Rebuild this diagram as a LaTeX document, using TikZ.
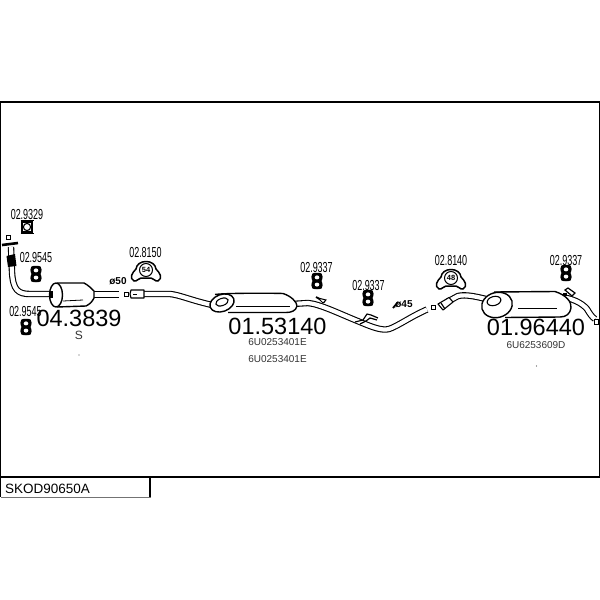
\documentclass[tikz,border=0pt]{standalone}
\usepackage{fontspec}
\setmainfont{Liberation Sans}
\tikzset{
  partno/.style={font=\fontsize{23.5}{24}\selectfont,inner sep=0pt},
  oem/.style={font=\fontsize{10}{11}\selectfont,text=black!80,inner sep=0pt},
  ref/.style={font=\fontsize{14.5}{15}\selectfont,xscale=.62,inner sep=0pt},
  dia/.style={font=\bfseries\fontsize{10}{10}\selectfont,inner sep=0pt},
  pipe/.style={draw=black,line width=1.1pt,double=white,double distance=4.2pt,line join=round},
  thinpipe/.style={draw=black,line width=1.1pt,double=white,double distance=3pt,line join=round},
  body/.style={draw=black,line width=1.4pt,fill=white,line join=round},
  tiny/.style={draw=black,line width=1pt,fill=white},
  rubber/.pic={
    \fill[black] (-4.5,-7.5) .. controls (-2,-8.5) and (2,-8.5) .. (4.5,-7.5) .. controls (7,-3) and (4.5,-1) .. (4.5,0) .. controls (4.5,1) and (7,3) .. (4.5,7.5) .. controls (2,8.5) and (-2,8.5) .. (-4.5,7.5) .. controls (-7,3) and (-4.5,1) .. (-4.5,0) .. controls (-4.5,-1) and (-7,-3) .. (-4.5,-7.5) -- cycle;
    \fill[white] (0,-3.6) ellipse (2.3 and 2);
    \fill[white] (0,3.6) ellipse (2.3 and 2);
  },
  saddle/.pic={
    \draw[line width=1.5pt,fill=white,line join=round] (-12,11) .. controls (-17,8) and (-14,3) .. (-10,-1) .. controls (-9,-11) and (9,-11) .. (10,-1) .. controls (14,3) and (17,8) .. (12,11) .. controls (9,12) and (8,8) .. (5,8) -- (-5,8) .. controls (-8,8) and (-9,12) .. (-12,11) -- cycle;
    \draw[line width=1pt] (0,0) circle (6.5);
  }
}
\begin{document}
\begin{tikzpicture}[x=1pt,y=-1pt]
\useasboundingbox (0,0) rectangle (600,600);
% frame
\draw[line width=1.3pt] (.7,102) rectangle (599.3,477);
\draw[line width=1.3pt] (.7,477) -- (.7,497);
\draw[line width=1.3pt] (150,477) -- (150,497);
\draw[line width=1.5pt,black!55] (.7,497.5) -- (150.5,497.5);
\node[anchor=west,font=\fontsize{13.5}{14}\selectfont,inner sep=0pt] (code) at (5,489) {SKOD90650A};

% front pipe and flange
\draw[tiny,line width=.9pt] (6,235) rectangle (10.5,239.5);
\draw[pipe] (11,247) -- (12,272) .. controls (13,290) and (18,294) .. (30,294) -- (54,294);
\fill[black] (6.5,256) -- (15,254) -- (16.5,266) -- (8,267) -- cycle;
\draw[line width=2.6pt] (2,245) -- (18,243);

% catalyst
\draw[thinpipe,double distance=4.5pt] (92,294.5) -- (118.5,294.5);
\draw[body] (57,283) -- (84,283) .. controls (88,285) and (91,288) .. (94,291) -- (94,298) .. controls (92,302) and (90,304) .. (86,306) -- (57,307);
\draw[body] (56,295) ellipse (6.5 and 12);
\draw[line width=.8pt] (63,301) -- (83,300);
\fill (50,291) rectangle (53,298);

% intermediate pipe
\draw[tiny] (124.5,292) rectangle (128.5,296);
\draw[pipe] (143,294) -- (170,294) .. controls (180,295) and (190,300) .. (212,305);
\draw[body,line width=1.1pt] (131,290) -- (144,290) -- (144,298) -- (131,298) -- (130,294) -- cycle;
\draw[line width=.8pt] (133,294) -- (137,294);

% centre muffler
\draw[pipe] (292,304) -- (308,303) .. controls (320,304) and (340,314) .. (360,322) .. controls (372,327) and (382,331) .. (389,329) .. controls (398,326) and (410,317) .. (427,309.5);
\draw[body] (215,294.5) .. controls (225,293) and (270,293) .. (283,293.5) .. controls (291,296) and (297,302) .. (297,306) .. controls (296,311) and (291,312.5) .. (286,312.5) -- (228,312.5);
\draw[body,rotate around={20:(222,303)}] (222,303) ellipse (12.5 and 8.5);
\draw[body,line width=1.1pt,rotate around={20:(222,302)}] (222,302) ellipse (6.5 and 3.6);
\draw[line width=.9pt] (236,306.5) -- (290,306.5);
% clamps on the centre pipe
\draw[line width=1.8pt] (316,297) -- (325,302);
\draw[line width=1pt,fill=white] (318,298) -- (326,300) -- (323,303) -- cycle;
\draw[line width=1.2pt,line join=round] (355,322) -- (363,320) -- (367,314) -- (371,315) -- (378,318);
\draw[line width=1.2pt] (360,324) -- (366,321) -- (370,318) -- (377,320);
\draw[line width=1.8pt] (393,308) -- (398,302);

% rear muffler
\draw[tiny,line width=.9pt] (431,305) rectangle (435.5,309.5);
\draw[pipe] (447,302) -- (458,296) .. controls (466,294) and (478,297) .. (490,300);
\draw[body,line width=1.1pt] (438,304) -- (449,297.5) -- (453,302) -- (443,310) -- cycle;
\draw[line width=1.2pt] (441,303) -- (445,309);
\draw[pipe] (560,297) .. controls (572,298) and (582,303) .. (587,309) .. controls (590,314) and (592,317) .. (595,319);
\draw[body] (494,292) -- (555,291.5) .. controls (566,295) and (572,302) .. (571,308) .. controls (570,314) and (566,317) .. (560,317) -- (505,317.5);
\draw[body,rotate around={15:(497,305)}] (497,305) ellipse (15.5 and 12.5);
\draw[body,line width=1.1pt,rotate around={15:(494,301)}] (494,301) ellipse (7 and 4.5);
\draw[line width=.9pt] (518,308.5) -- (557,308.5);
\draw[tiny,line width=.9pt] (594.5,319.5) rectangle (598.5,324);
\draw[line width=1.2pt,fill=white] (565,290) -- (568,288) -- (575,293) -- (572,296) -- cycle;
\fill (563,293) rectangle (567,296);

% gasket
\draw[line width=1.5pt] (22,222) rectangle (32,232);
\draw[line width=1.5pt] (20.5,220.5) -- (33.5,220.5) (20.5,233.5) -- (33.5,233.5);
\draw[line width=1.1pt,fill=white] (27,227) circle (3.6);

% rubbers and saddles
\pic at (36,274) {rubber};
\pic at (26,327) {rubber};
\pic at (317,281) {rubber};
\pic at (368,298) {rubber};
\pic at (566,273) {rubber};
\pic at (146,270) {saddle};
\pic at (451,278) {saddle};
\node[font=\fontsize{7.5}{8}\bfseries\selectfont,inner sep=0pt] (n54) at (146,270) {54};
\node[font=\fontsize{7.5}{8}\bfseries\selectfont,inner sep=0pt] (n48) at (451,278) {48};

% reference labels
\node[ref] (r1) at (27,214.5) {02.9329};
\node[ref] (r2) at (36,257.5) {02.9545};
\node[ref] (r3) at (25.5,311.5) {02.9545};
\node[ref] (r4) at (145.5,253) {02.8150};
\node[ref] (r5) at (316.5,268) {02.9337};
\node[ref] (r6) at (368.5,285.5) {02.9337};
\node[ref] (r7) at (451,261) {02.8140};
\node[ref] (r8) at (566,261) {02.9337};
\node[dia] (d50) at (118,281.5) {ø50};
\node[dia] (d45) at (404,304.5) {ø45};

% part numbers
\node[partno] (p1) at (79,318) {04.3839};
\node[font=\fontsize{12}{12}\selectfont,text=black!80,inner sep=0pt] (s) at (79,335) {S};
\fill[black!70] (79,355) circle (.6);
\node[partno] (p2) at (277.5,326) {01.53140};
\node[oem] (o1) at (277.5,342) {6U0253401E};
\node[oem] (o2) at (277.5,359) {6U0253401E};
\node[partno] (p3) at (536,327) {01.96440};
\node[oem] (o3) at (536,345) {6U6253609D};
\fill[black!70] (536.5,366) circle (.6);
\end{tikzpicture}
\end{document}
